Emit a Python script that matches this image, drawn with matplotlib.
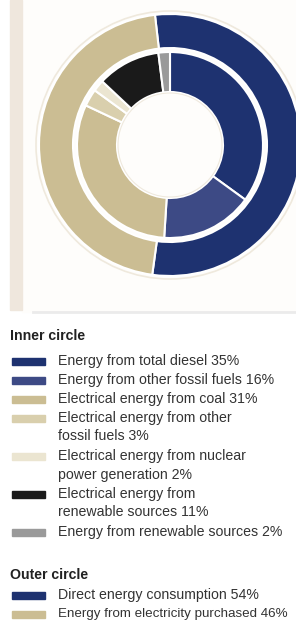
import matplotlib
matplotlib.use('Agg')
import matplotlib.pyplot as plt
from matplotlib.patches import Rectangle, Circle

# inner circle breakdown (%)
inner_labels = ["Energy from total diesel 35%",
                "Energy from other fossil fuels 16%",
                "Electrical energy from coal 31%",
                "Electrical energy from other\nfossil fuels 3%",
                "Electrical energy from nuclear\npower generation 2%",
                "Electrical energy from\nrenewable sources 11%",
                "Energy from renewable sources 2%"]
inner_values = [35, 16, 31, 3, 2, 11, 2]
inner_colors = ["#1e3270", "#3d4a85", "#cbbd93", "#d9cfad", "#ebe5d1", "#1a1a1a", "#9a9a9a"]

# outer circle breakdown (%)
outer_labels = ["Direct energy consumption 54%",
                "Energy from electricity purchased 46%"]
outer_values = [54, 46]
outer_colors = ["#1e3270", "#cbbd93"]

W, H = 296, 628
fig = plt.figure(figsize=(W / 100, H / 100), dpi=100)
ax = fig.add_axes([0, 0, 1, 1])

def py(y):
    return H - y

# panel background
ax.add_patch(Rectangle((22, py(312)), W - 22, 312, color="#fefdfb", zorder=0))
ax.add_patch(Rectangle((10, py(310)), 12, 310, color="#efe7dd", zorder=1))
ax.plot([33, W], [py(312), py(312)], color="#ebebeb", lw=2, zorder=1)

cx, cy = 170, py(145)
ax.add_patch(Circle((cx, cy), 134, fill=False, ec="#efe9dd", lw=1.2, zorder=1))

ax.pie(outer_values, colors=outer_colors, radius=131, center=(cx, cy),
       startangle=96.6, counterclock=False, frame=True,
       wedgeprops=dict(width=34, edgecolor="white", linewidth=1.5))
ax.pie(inner_values, colors=inner_colors, radius=93, center=(cx, cy),
       startangle=90, counterclock=False, frame=True,
       wedgeprops=dict(width=40, edgecolor="white", linewidth=1.5))
ax.add_patch(Circle((cx, cy), 52, fill=False, ec="#efe9dd", lw=0.8, zorder=3))
ax.set_xlim(0, W)
ax.set_ylim(0, H)
ax.set_aspect('auto')
ax.axis('off')

font = "Liberation Sans"
fs = 10.2
txt_color = "#333333"

def legend_rows(labels, colors, y):
    for lab, col in zip(labels, colors):
        ax.add_patch(Rectangle((12, py(y + 3.5)), 33, 7, color=col))
        lines = lab.split("\n")
        # very long lines are shrunk a little so they stay inside the figure
        size = fs if max(len(l) for l in lines) < 36 else 9.6
        for i, line in enumerate(lines):
            ax.text(58, py(y + 18.5 * i), line, fontsize=size, color=txt_color,
                    family=font, va='center')
        y += 19 * len(lines)

ax.text(10, py(336), "Inner circle", fontsize=fs, fontweight='bold',
        color="#222222", family=font, va='center')
legend_rows(inner_labels, inner_colors, 361)

ax.text(10, py(575), "Outer circle", fontsize=fs, fontweight='bold',
        color="#222222", family=font, va='center')
legend_rows(outer_labels, outer_colors, 595)

fig.savefig("out.png", dpi=100, facecolor="white")
